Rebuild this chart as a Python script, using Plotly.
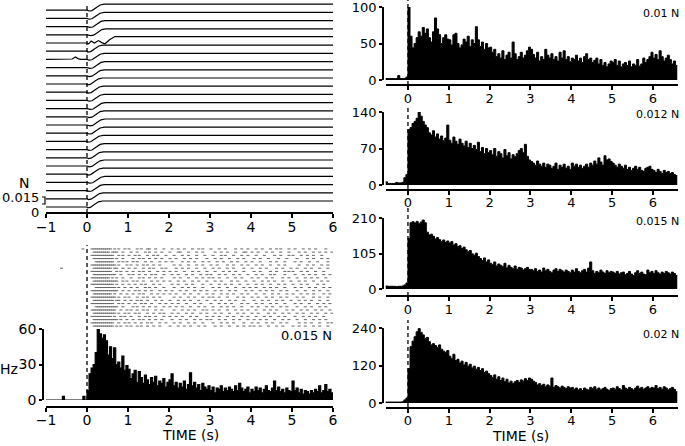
import numpy as np
import plotly.graph_objects as go

W, H = 685, 446
FONT = "DejaVu Sans"

##################################
## Data
##################################

# force records (N), 25 trials, top to bottom
force_time = [-1.0, 0.0, 0.05, 0.12, 0.22, 0.32, 0.42, 6.0]
force_value = [0.0, 0.0, -0.002, -0.001, 0.006, 0.013, 0.015, 0.015]
trial_shift = [0.0, 0.0, 0.02, 0.04, 0.0, -0.03, 0.0, 0.02, 0.0, -0.04, -0.02, 0.0, 0.03,
               0.0, 0.02, 0.0, -0.03, 0.0, -0.02, 0.0, -0.03, 0.02, 0.0, -0.02, -0.04]
special_time = {
    4: [-1.0, 0.0, 0.04, 0.1, 0.18, 0.28, 0.36, 0.44, 0.55, 0.68, 6.0],
    6: [-1.0, -0.45, -0.36, -0.28, -0.22, -0.15, 0.0, 0.05, 0.12, 0.22, 0.32, 0.42, 6.0],
}
special_value = {
    4: [0.0, 0.0, -0.002, 0.005, 0.0, 0.006, 0.001, -0.002, 0.008, 0.016, 0.016],
    6: [0.0, 0.0, 0.001, 0.006, 0.002, 0.0, 0.0, -0.002, -0.001, 0.006, 0.013, 0.015, 0.015],
}

# spike raster, 0.015 N; each group = 1 s of 0.05 s bins, '|' = spike
raster_rows = [
    "..||||||||||.|.|..|. |...|.|..||..|...|. .|..|..|...|..|.|.. |...|..|....|..|..|. ..|..|...|..|.|...|. .|...|..|..|....|...",
    "...||||||||.|||..|.. .|..|...|.|..|..|.. |...||...|...|..|... ..|..|..|...|...||.. |..|...|..|...|...|. ...|..|...|..|..|..|",
    "..|||||||||||..|.|.. |..|.|...|..|.|...| ..|...|..|...|...|.. .|...|.|...|...|..|. ..|...|....|..|...|. |...|..|..|...|.....",
    "...||||||||||.|..|.. ..|..|.|..|..|..|.. |..|...|..|..|....|. ..|..|...|...|..|... .|..|...|....|...|.. ..|....|..|...|..|..",
    "....|||||||||..|.|.| ..|.|...|..|...|..| .|....|..|..|...|..| ...|..|...|..|...|.. |...|....|..|...|... .|..|...|...|....|..",
    "..||||||||||||.|...| .|..|..|.|..|..|... ..|..|...|...|..|... |..|....|..|...|..|. ..|..|...|...|..|... ...|...|..|...|..|..",
    "...|||||||||.||..|.. |..|...|..|.|...|.| ...|..|..|...|...|.. .|..|...|..|....|.. |...|..|....|..|...| ..|...|..|...|...|..",
    "..||||||||||..|.|..| ..|..|.|..|...|..|. |..|...|...|..|...|. ..|...|..|..|...|... .|..|....|..|...|.|. |...|..|...|...|....",
    "...|||||||||||..|... |.|..|..|..|.|...|. .|..|...|..|...|..|. |...|..|...|..|...|. ..|..|...|.|....|... .|...|..|..|...|..|.",
    "..|||||||||.|.|..|.. .|...|.|..|..|..|.. ..|..|...|...|..|..| .|..|...|...|..|.... |..|...|..|....|..|. ..|...|..|..|...|...",
    "...||||||||||||..|.| ..|.|..|...|..|..|. |...|..|...|..|...|. ..|..|....|..|...|.. .|...|..|..|...|...| ...|..|...|...|..|..",
    "..|||||||||||.|..|.. |..|..|.|...|..|... .|..|...|..|....|.. |...|..|..|...|...|. ..|..|...|...|..|... |...|..|....|..|....",
    "....||||||||||.|..|. .|..|...|.|..|...|. ..|...|..|..|...|.. .|..|...|...|...|..| ..|...|..|..|...|... .|..|...|..|...|..|.",
    "..|||||||||||||..|.. |..|.|..|..|...|..| .|...|..|...|..|..|. ..|..|...|..|....|.. |...|..|..|...|..|.. ..|...|...|..|...|..",
    "...|||||||||.|..|..| ..|..|.|...|..|..|. |..|...|..|...|...|. .|...|..|..|...|..|. ..|...|...|..|...|.. |...|..|..|....|..|.",
    "..||||||||||||.|..|. |...|..|.|..|..|... ..|..|...|..|...|..| .|..|...|....|..|... |..|...|..|...|..|.. ..|..|....|..|...|..",
    "...||||||||||.||..|. .|..|.|..|...|..|.. |...|..|..|...|...|. ..|..|...|..|...|... .|...|..|...|..|...| ...|..|..|...|...|..",
    "..|||||||||||..|.|.. |..|..|.|..|...|..| .|..|...|...|..|... |...|..|..|....|..|. ..|..|...|..|...|... .|..|...|...|..|..|.",
    "....|||||||||||..|.. ..|.|..|..|..|...|. |..|..|...|...|..|. .|...|..|..|...|.... |..|...|..|...|..|.. ..|...|..|...|..|...",
    "..||||||||||||..|..| .|..|..|.|...|..|.. ..|...|..|..|...|.| .|..|...|...|..|..|. ..|...|..|..|....|.. |...|..|...|..|...|.",
    "...|||||||||||.|..|. |..|.|...|..|..|.|. .|..|...|..|...|..|. ..|..|...|...|..|... |..|....|..|...|..|. ..|..|...|..|...|..|",
    "..||||||||||.|..|.|. .|...|..|.|..|...|. |..|..|...|..|....|. .|..|...|..|...|..|. ..|...|..|...|..|... .|...|..|..|...|....",
    "...||||||||||||.|..| ..|..|.|..|..|..|.. .|...|..|...|..|..|. |...|..|...|..|...|. .|..|..|...|...|..|. ..|...|...|..|..|...",
    "..|||||||||||..|..|. |..|..|..|.|...|..| ..|..|...|..|...|... .|...|..|..|....|.. |..|...|..|...|..|.. ...|..|..|...|...|.|",
    "...||||||||||.|.|..| .|..|.|..|..|..|... |...|..|..|...|..|.. ..|..|...|...|..|..| .|..|...|...|..|.... |..|..|...|..|...|..",
]
pre_spike_time = [-0.1, -0.62]
pre_spike_row = [1, 7]

# PSTH 0.015 N (Hz), 0.05 s bins from -1 to 6 s
psth_left = (
    [0, 0, 0, 0, 0, 0, 0, 0, 3, 0, 0, 0, 0, 0, 0, 0, 0, 0, 3, 0]
    + [8, 22, 27, 30, 40, 60, 56, 52, 55, 50, 38, 45, 35, 44, 30, 32, 27, 37, 25, 29]
    + [26, 18, 22, 25, 15, 24, 19, 14, 21, 17, 13, 19, 15, 20, 12, 16, 14, 18, 11, 15]
    + [17, 22, 12, 15, 10, 14, 11, 16, 9, 13, 23, 12, 15, 10, 13, 8, 14, 11, 9, 12]
    + [8, 11, 6, 10, 9, 12, 7, 10, 8, 11, 9, 7, 12, 8, 14, 10, 7, 9, 11, 6]
    + [9, 7, 11, 8, 10, 6, 9, 12, 8, 7, 10, 16, 8, 11, 7, 9, 6, 10, 8, 7]
    + [16, 8, 10, 6, 9, 5, 8, 7, 5, 8, 6, 9, 7, 12, 6, 8, 13, 7, 9, 6]
)

# PSTHs by force, 0.05 s bins from -0.55 to 6.6 s
psth_001 = (
    [2, 2, 2, 2, 2, 2, 6, 2, 2, 2, 4]
    + [100, 60, 44, 50, 58, 66, 60, 72, 64, 70, 58, 52, 66, 85, 70, 62, 50, 58, 62, 56]
    + [55, 48, 62, 64, 50, 44, 48, 56, 52, 60, 46, 55, 50, 73, 55, 46, 52, 42, 50, 44]
    + [45, 38, 42, 32, 36, 30, 40, 28, 34, 38, 30, 52, 36, 28, 32, 38, 30, 34, 40, 45]
    + [42, 35, 30, 38, 26, 32, 28, 42, 34, 30, 36, 28, 32, 26, 38, 30, 40, 28, 32, 25]
    + [30, 28, 34, 26, 30, 24, 32, 36, 28, 30, 24, 27, 30, 22, 28, 20, 24, 18, 22, 26]
    + [24, 28, 20, 26, 18, 22, 24, 20, 26, 18, 22, 20, 28, 19, 22, 30, 24, 28, 32, 38]
    + [30, 35, 28, 40, 32, 26, 30, 34, 28, 22, 26, 20]
)
psth_0012 = (
    [6, 3, 3, 3, 3, 5, 4, 4, 5, 14, 20]
    + [106, 110, 118, 122, 128, 140, 132, 122, 115, 110, 100, 96, 104, 92, 98, 88, 94, 85, 90, 115]
    + [86, 80, 92, 84, 78, 88, 80, 75, 84, 72, 80, 70, 76, 68, 82, 64, 72, 60, 70, 62]
    + [66, 58, 70, 55, 64, 60, 52, 68, 56, 62, 50, 58, 54, 60, 66, 70, 62, 78, 55, 48]
    + [45, 42, 38, 46, 40, 36, 42, 34, 40, 38, 32, 36, 42, 30, 38, 34, 40, 32, 36, 30]
    + [42, 36, 40, 34, 38, 32, 36, 40, 34, 42, 38, 46, 40, 52, 44, 38, 56, 48, 50, 45]
    + [42, 38, 34, 40, 36, 32, 38, 30, 34, 28, 32, 36, 30, 34, 28, 26, 32, 34, 36, 30]
    + [28, 24, 30, 26, 22, 28, 24, 26, 22, 24, 20, 18]
)
psth_0015 = (
    [9, 8, 8, 8, 8, 7, 8, 8, 9, 12, 18]
    + [150, 196, 199, 195, 200, 193, 198, 204, 196, 168, 160, 162, 156, 148, 152, 146, 140, 145, 138, 142]
    + [136, 140, 130, 134, 126, 128, 120, 124, 116, 110, 114, 104, 100, 106, 96, 90, 84, 92, 80, 86]
    + [76, 72, 80, 68, 74, 70, 66, 76, 62, 70, 64, 60, 68, 58, 64, 62, 56, 60, 64, 58]
    + [58, 54, 60, 52, 56, 50, 62, 54, 58, 52, 48, 56, 60, 52, 58, 54, 50, 56, 52, 48]
    + [56, 50, 60, 52, 48, 54, 58, 50, 62, 80, 54, 46, 52, 48, 56, 50, 46, 54, 48, 52]
    + [50, 46, 52, 44, 48, 50, 42, 46, 52, 44, 40, 48, 54, 46, 50, 44, 42, 56, 48, 52]
    + [46, 54, 48, 44, 50, 46, 52, 48, 44, 50, 46, 40]
)
psth_002 = (
    [3, 3, 3, 3, 3, 3, 3, 3, 4, 10, 16]
    + [110, 180, 198, 212, 228, 238, 226, 218, 206, 210, 196, 186, 190, 184, 178, 186, 172, 166, 162, 168]
    + [150, 142, 156, 136, 140, 128, 134, 122, 130, 118, 124, 112, 118, 108, 114, 104, 110, 98, 102, 94]
    + [88, 82, 90, 76, 84, 72, 80, 68, 76, 64, 70, 62, 68, 72, 66, 74, 70, 78, 72, 80]
    + [76, 70, 66, 58, 62, 56, 60, 52, 58, 54, 80, 50, 56, 52, 48, 54, 50, 46, 52, 48]
    + [50, 44, 48, 42, 46, 40, 48, 44, 42, 50, 46, 52, 44, 48, 42, 46, 50, 44, 40, 46]
    + [48, 44, 52, 46, 42, 56, 48, 44, 50, 46, 42, 48, 54, 46, 50, 44, 48, 52, 46, 50]
    + [48, 56, 46, 50, 44, 52, 48, 42, 46, 50, 44, 36]
)
right_labels = ["0.01 N", "0.012 N", "0.015 N", "0.02 N"]
right_ymax = [100, 140, 210, 240]

BIN = 0.05

##################################
## Helpers
##################################


def px(x):
    return x / W


def py(y):
    return 1 - y / H


def step_xy(start, vals):
    edges = start + BIN * np.arange(len(vals) + 1)
    return edges, list(vals) + [vals[-1]]


fig = go.Figure()

##################################
## Force records
##################################

SPACING = 0.0205
n_trials = len(trial_shift)
for i in range(n_trials):
    offset = (n_trials - 1 - i) * SPACING
    if i in special_time:
        t = np.array(special_time[i])
        f = np.array(special_value[i])
    else:
        t = np.array(force_time) + np.where(np.array(force_time) > 0, trial_shift[i], 0)
        t[-1] = 6.0
        f = np.array(force_value)
    fig.add_trace(go.Scatter(x=t, y=f + offset, mode="lines",
                             line=dict(color="black", width=1.2),
                             xaxis="x", yaxis="y", hoverinfo="skip"))

##################################
## Raster
##################################

sx, sy = list(pre_spike_time), list(pre_spike_row)
for r, row in enumerate(raster_rows):
    for k, seg in enumerate(row.split()):
        for j, ch in enumerate(seg[:20]):
            if ch == "|":
                sx.append(k + BIN * j + BIN / 2)
                sy.append(r + 1)
fig.add_trace(go.Scatter(x=sx, y=sy, mode="markers", xaxis="x2", yaxis="y2",
                         marker=dict(symbol="line-ew", size=2.2,
                                     line=dict(color="#666", width=1)),
                         hoverinfo="skip"))

##################################
## PSTHs
##################################

ex, ey = step_xy(-1.0, psth_left)
fig.add_trace(go.Scatter(x=ex, y=ey, mode="lines", line_shape="hv",
                         line=dict(color="black", width=1.2), fill="tozeroy",
                         fillcolor="black", xaxis="x3", yaxis="y3", hoverinfo="skip"))

right_series = [psth_001, psth_0012, psth_0015, psth_002]
for n, vals in enumerate(right_series):
    ex, ey = step_xy(-0.55, vals)
    fig.add_trace(go.Scatter(x=ex, y=ey, mode="lines", line_shape="hv",
                             line=dict(color="black", width=1), fill="tozeroy",
                             fillcolor="black", xaxis=f"x{n + 4}", yaxis=f"y{n + 4}",
                             hoverinfo="skip"))

##################################
## Axes
##################################

tick_font = dict(family=FONT, size=13, color="black")
xbase = dict(showgrid=False, zeroline=False, showline=True, linewidth=2, linecolor="black",
             ticks="outside", ticklen=4, tickwidth=1.5, tickcolor="black", dtick=1, tick0=0,
             tickfont=tick_font, fixedrange=True, automargin=False, ticklabelstandoff=-3,
             ticklabeloverflow="allow")
ybase = dict(showgrid=False, zeroline=False, showline=True, linewidth=1.5, linecolor="black",
             ticks="outside", ticklen=3, tickwidth=1.5, tickcolor="black",
             tickfont=tick_font, fixedrange=True, automargin=False, ticklabeloverflow="allow")
hidden = dict(visible=False, showgrid=False, zeroline=False, fixedrange=True, automargin=False)

LX0, LX1 = 46, 333
RX0, RX1 = 385.5, 677.5

layout_axes = dict(
    xaxis=dict(xbase, domain=[px(LX0), px(LX1)], range=[-1, 6], anchor="free",
               position=py(213), tickfont=dict(tick_font, size=14)),
    yaxis=dict(hidden, domain=[py(212), py(3)], range=[-0.0125, 0.51], anchor="x"),
    xaxis2=dict(hidden, domain=[px(LX0), px(LX1)], range=[-1, 6], anchor="y2"),
    yaxis2=dict(hidden, domain=[py(328), py(247)], range=[25.6, 0.4], anchor="x2"),
    xaxis3=dict(xbase, domain=[px(LX0), px(LX1)], range=[-1, 6], anchor="free",
                position=py(407), tickfont=dict(tick_font, size=14), ticklabelstandoff=-4),
    yaxis3=dict(ybase, domain=[py(400), py(329)], range=[0, 60], anchor="free",
                position=px(43), tickvals=[0, 30, 60], tickfont=dict(tick_font, size=14)),
)

# right column: (zero px, top px, axis line px)
right_rows = [(80, 7, 85), (185, 112, 189.5), (289, 218, 296), (403, 328, 407.5)]
for n, (y0, y1, yl) in enumerate(right_rows):
    k = n + 4
    layout_axes[f"xaxis{k}"] = dict(xbase, domain=[px(RX0), px(RX1)], range=[-0.55, 6.6],
                                    anchor="free", position=py(yl))
    top = right_ymax[n]
    layout_axes[f"yaxis{k}"] = dict(ybase, domain=[py(y0), py(y1)], range=[0, top],
                                    anchor="free", position=px(383),
                                    tickvals=[0, top // 2, top])

fig.update_layout(**layout_axes)

##################################
## Shapes and labels
##################################

dash = dict(color="black", width=1.3, dash="4px,3px")
shapes = [
    dict(type="line", xref="x", yref="paper", x0=0, x1=0, y0=py(213), y1=py(3), line=dash),
    dict(type="line", xref="x3", yref="paper", x0=0, x1=0, y0=py(400), y1=py(245), line=dash),
]
dash_spans = [(85, 0), (189, 107), (296, 207), (407, 320)]
for n, (a, b) in enumerate(dash_spans):
    shapes.append(dict(type="line", xref=f"x{n + 4}", yref="paper", x0=0, x1=0,
                       y0=py(a), y1=py(b), line=dash))
# force scale bar
shapes.append(dict(type="path", xref="paper", yref="paper",
                   path=f"M {px(42)} {py(197)} L {px(45)} {py(197)} L {px(45)} {py(204)} L {px(42)} {py(204)}",
                   line=dict(color="black", width=1.2)))

ann_font = dict(family=FONT, size=14, color="black")


def label(x, y, text, anchor="center", size=14):
    return dict(x=px(x), y=py(y), xref="paper", yref="paper", text=text, showarrow=False,
                xanchor=anchor, yanchor="middle", font=dict(ann_font, size=size))


annotations = [
    label(24, 183, "N"),
    label(41, 198, "0.015", "right", 13),
    label(35, 213, "0", "center", 13),
    label(9, 369, "Hz"),
    label(334, 335, "0.015 N", "right", 13),
    label(190, 435, "TIME (s)"),
    label(520, 436, "TIME (s)"),
]
label_y = [14, 114, 221, 334]
for n, lab in enumerate(right_labels):
    annotations.append(label(681, label_y[n], lab, "right", 11))

fig.update_layout(
    width=W, height=H, margin=dict(l=0, r=0, t=0, b=0),
    paper_bgcolor="white", plot_bgcolor="rgba(0,0,0,0)",
    showlegend=False, shapes=shapes, annotations=annotations,
    font=dict(family=FONT, color="black"),
)

# page body has a default 8px margin; remove it so the figure sits at the corner
fig.write_html("out.html", config={"displayModeBar": False},
               post_script="document.body.style.margin='0';document.body.style.overflow='hidden';")
